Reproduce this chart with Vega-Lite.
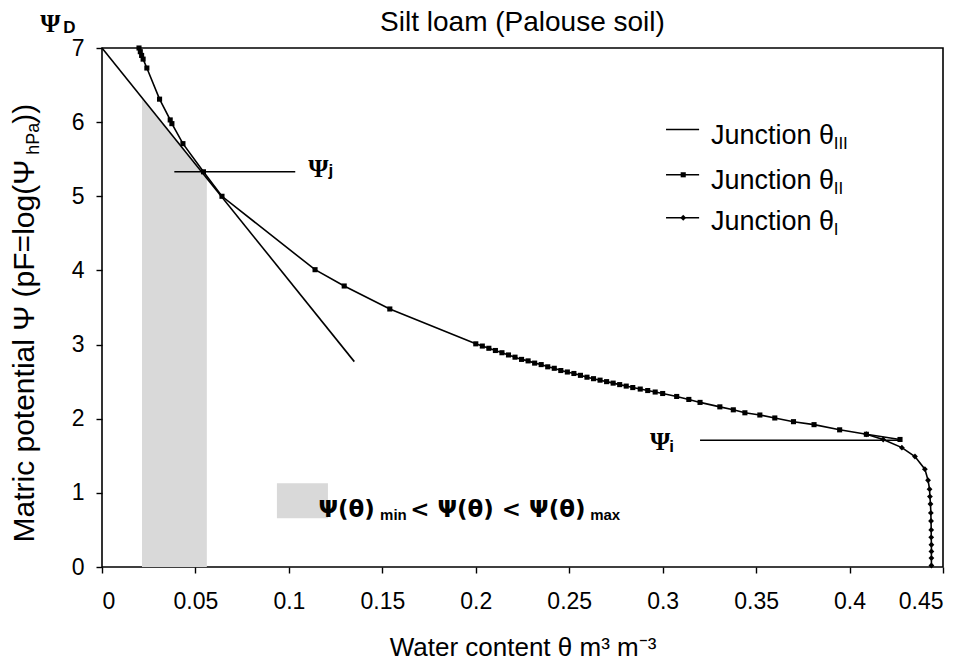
{
  "$schema": "https://vega.github.io/schema/vega-lite/v6.json",
  "autosize": {"type": "none"},
  "width": 841,
  "height": 519,
  "padding": {"left": 102, "top": 48, "right": 36, "bottom": 102},
  "background": "white",
  "config": {
    "view": {"stroke": "black", "strokeWidth": 1.6},
    "axis": {"grid": false, "domain": false, "tickColor": "black", "tickWidth": 1.4, "tickSize": 6, "labelColor": "black", "labelFont": "Liberation Sans", "labelFontSize": 23, "titleFont": "Liberation Sans", "titleFontSize": 26, "titleFontWeight": "normal", "titleColor": "black"}
  },
  "datasets": {
    "shade": [{"x": 0.0214, "y": 6.33}, {"x": 0.0561, "y": 5.24}],
    "box": [{"x": 0.0936, "x2": 0.1209, "y": 0.657, "y2": 1.13}],
    "junction3": [{"x": 0, "y": 7}, {"x": 0.135, "y": 2.77}],
    "refs": [{"x": 0.0387, "x2": 0.1034, "y": 5.33}, {"x": 0.32, "x2": 0.428, "y": 1.71}],
    "junction2": [
      {"x": 0.0198, "y": 7.0}, {"x": 0.0205, "y": 6.95}, {"x": 0.0212, "y": 6.9}, {"x": 0.022, "y": 6.85},
      {"x": 0.024, "y": 6.73}, {"x": 0.0308, "y": 6.31}, {"x": 0.0365, "y": 6.03}, {"x": 0.0374, "y": 5.98},
      {"x": 0.0433, "y": 5.71}, {"x": 0.0543, "y": 5.33}, {"x": 0.0642, "y": 5.0}, {"x": 0.114, "y": 4.01},
      {"x": 0.1296, "y": 3.79}, {"x": 0.154, "y": 3.48}, {"x": 0.2, "y": 3.01}, {"x": 0.2035, "y": 2.98},
      {"x": 0.207, "y": 2.95}, {"x": 0.2105, "y": 2.92}, {"x": 0.214, "y": 2.89}, {"x": 0.2175, "y": 2.86},
      {"x": 0.221, "y": 2.83}, {"x": 0.2245, "y": 2.8}, {"x": 0.228, "y": 2.78}, {"x": 0.2315, "y": 2.75},
      {"x": 0.235, "y": 2.73}, {"x": 0.2385, "y": 2.7}, {"x": 0.242, "y": 2.68}, {"x": 0.2455, "y": 2.65},
      {"x": 0.249, "y": 2.63}, {"x": 0.2525, "y": 2.61}, {"x": 0.256, "y": 2.585}, {"x": 0.2595, "y": 2.56},
      {"x": 0.263, "y": 2.54}, {"x": 0.2665, "y": 2.52}, {"x": 0.27, "y": 2.5}, {"x": 0.2735, "y": 2.48},
      {"x": 0.277, "y": 2.46}, {"x": 0.2805, "y": 2.44}, {"x": 0.284, "y": 2.42}, {"x": 0.288, "y": 2.4},
      {"x": 0.292, "y": 2.38}, {"x": 0.296, "y": 2.36}, {"x": 0.3, "y": 2.34}, {"x": 0.3075, "y": 2.3},
      {"x": 0.314, "y": 2.26}, {"x": 0.32, "y": 2.22}, {"x": 0.3306, "y": 2.16}, {"x": 0.3378, "y": 2.12},
      {"x": 0.344, "y": 2.08}, {"x": 0.352, "y": 2.05}, {"x": 0.36, "y": 2.01}, {"x": 0.37, "y": 1.96},
      {"x": 0.381, "y": 1.92}, {"x": 0.3947, "y": 1.85}, {"x": 0.409, "y": 1.79}, {"x": 0.427, "y": 1.72}
    ],
    "junction1": [
      {"x": 0.409, "y": 1.79}, {"x": 0.418, "y": 1.72}, {"x": 0.428, "y": 1.61}, {"x": 0.435, "y": 1.49},
      {"x": 0.4403, "y": 1.32}, {"x": 0.442, "y": 1.17}, {"x": 0.4428, "y": 1.05}, {"x": 0.443, "y": 0.95},
      {"x": 0.4433, "y": 0.85}, {"x": 0.4435, "y": 0.73}, {"x": 0.4436, "y": 0.62}, {"x": 0.4437, "y": 0.5},
      {"x": 0.4437, "y": 0.4}, {"x": 0.4438, "y": 0.3}, {"x": 0.4438, "y": 0.21}, {"x": 0.4438, "y": 0.12},
      {"x": 0.4438, "y": 0.02}
    ],
    "legendLines": [{"x": 0.3018, "x2": 0.3195, "y": 5.9}, {"x": 0.3018, "x2": 0.3195, "y": 5.29}, {"x": 0.3018, "x2": 0.3195, "y": 4.71}],
    "legendSquare": [{"x": 0.311, "y": 5.29}],
    "legendDiamond": [{"x": 0.311, "y": 4.71}],
    "legendText": [{"x": 0.3258, "y": 5.71, "t": "Junction θ"}, {"x": 0.3258, "y": 5.1, "t": "Junction θ"}, {"x": 0.3258, "y": 4.55, "t": "Junction θ"}],
    "legendSub": [{"x": 0.3915, "y": 5.64, "t": "III"}, {"x": 0.3915, "y": 5.03, "t": "II"}, {"x": 0.3915, "y": 4.48, "t": "I"}],
    "chartTitle": [{"x": 0.225, "y": 7.23, "t": "Silt loam (Palouse soil)"}],
    "psiBig": [{"x": -0.033, "y": 7.22, "t": "Ψ"}, {"x": 0.1103, "y": 5.26, "t": "Ψ"}, {"x": 0.2932, "y": 1.58, "t": "Ψ"}],
    "psiSub": [{"x": -0.0207, "y": 7.2, "t": "D"}, {"x": 0.1212, "y": 5.27, "t": "j"}, {"x": 0.3035, "y": 1.55, "t": "i"}],
    "boxText": [{"x": 0.1158, "y": 0.675, "t": "Ψ(θ)"}, {"x": 0.1649, "y": 0.675, "t": "< Ψ(θ) < Ψ(θ)"}],
    "boxSub": [{"x": 0.1488, "y": 0.634, "t": "min"}, {"x": 0.2612, "y": 0.634, "t": "max"}],
    "yTitle": [{"x": -0.0363, "y": 0.33, "t": "Matric potential Ψ (pF=log(Ψ"}, {"x": -0.0363, "y": 5.98, "t": "))"}],
    "yTitleSub": [{"x": -0.0336, "y": 5.56, "t": "hPa"}]
  },
  "encoding": {
    "x": {"field": "x", "type": "quantitative", "scale": {"domain": [0, 0.45], "nice": false, "zero": false},
          "axis": {"values": [0, 0.05, 0.1, 0.15, 0.2, 0.25, 0.3, 0.35, 0.4, 0.45], "format": "~g", "labelPadding": 17, "titlePadding": 21},
          "title": "Water content θ m³ m⁻³"},
    "y": {"field": "y", "type": "quantitative", "scale": {"domain": [0, 7], "nice": false},
          "axis": {"values": [0, 1, 2, 3, 4, 5, 6, 7], "labelPadding": 12}, "title": null}
  },
  "layer": [
    {
      "data": {"name": "shade"},
      "mark": {"type": "area", "color": "#d9d9d9"}
    },
    {
      "data": {"name": "box"},
      "mark": {"type": "rect", "color": "#d9d9d9"},
      "encoding": {"x2": {"field": "x2"}, "y2": {"field": "y2"}}
    },
    {
      "data": {"name": "junction3"},
      "mark": {"type": "line", "color": "black", "strokeWidth": 1.6}
    },
    {
      "data": {"name": "refs"},
      "mark": {"type": "rule", "color": "black", "strokeWidth": 1.6},
      "encoding": {"x2": {"field": "x2"}}
    },
    {
      "data": {"name": "junction2"},
      "mark": {"type": "line", "color": "black", "strokeWidth": 1.6, "point": {"shape": "square", "size": 26, "filled": true, "color": "black"}},
      "encoding": {"order": {"field": "y", "sort": "descending"}}
    },
    {
      "data": {"name": "junction1"},
      "mark": {"type": "line", "color": "black", "strokeWidth": 1.6, "point": {"shape": "diamond", "size": 34, "filled": true, "color": "black"}},
      "encoding": {"order": {"field": "y", "sort": "descending"}}
    },
    {
      "data": {"name": "legendLines"},
      "mark": {"type": "rule", "color": "black", "strokeWidth": 1.6},
      "encoding": {"x2": {"field": "x2"}}
    },
    {
      "data": {"name": "legendSquare"},
      "mark": {"type": "point", "shape": "square", "size": 26, "filled": true, "color": "black", "opacity": 1}
    },
    {
      "data": {"name": "legendDiamond"},
      "mark": {"type": "point", "shape": "diamond", "size": 34, "filled": true, "color": "black", "opacity": 1}
    },
    {
      "data": {"name": "chartTitle"},
      "mark": {"type": "text", "font": "Liberation Sans", "fontSize": 28, "color": "black", "align": "center", "baseline": "alphabetic"},
      "encoding": {"text": {"field": "t"}}
    },
    {
      "data": {"name": "legendText"},
      "mark": {"type": "text", "font": "Liberation Sans", "fontSize": 27, "color": "black", "align": "left", "baseline": "alphabetic"},
      "encoding": {"text": {"field": "t"}}
    },
    {
      "data": {"name": "legendSub"},
      "mark": {"type": "text", "font": "Liberation Sans", "fontSize": 17, "color": "black", "align": "left", "baseline": "alphabetic"},
      "encoding": {"text": {"field": "t"}}
    },
    {
      "data": {"name": "psiBig"},
      "mark": {"type": "text", "font": "Liberation Serif", "fontSize": 26, "fontWeight": "bold", "color": "black", "align": "left", "baseline": "alphabetic"},
      "encoding": {"text": {"field": "t"}}
    },
    {
      "data": {"name": "psiSub"},
      "mark": {"type": "text", "font": "Liberation Sans", "fontSize": 17, "fontWeight": "bold", "color": "black", "align": "left", "baseline": "alphabetic"},
      "encoding": {"text": {"field": "t"}}
    },
    {
      "data": {"name": "boxText"},
      "mark": {"type": "text", "font": "DejaVu Sans", "fontSize": 23, "fontWeight": "bold", "color": "black", "align": "left", "baseline": "alphabetic"},
      "encoding": {"text": {"field": "t"}}
    },
    {
      "data": {"name": "boxSub"},
      "mark": {"type": "text", "font": "Liberation Sans", "fontSize": 15, "fontWeight": "bold", "color": "black", "align": "left", "baseline": "alphabetic"},
      "encoding": {"text": {"field": "t"}}
    },
    {
      "data": {"name": "yTitle"},
      "mark": {"type": "text", "font": "Liberation Sans", "fontSize": 30, "color": "black", "align": "left", "baseline": "alphabetic", "angle": 270},
      "encoding": {"text": {"field": "t"}}
    },
    {
      "data": {"name": "yTitleSub"},
      "mark": {"type": "text", "font": "Liberation Sans", "fontSize": 18, "color": "black", "align": "left", "baseline": "alphabetic", "angle": 270},
      "encoding": {"text": {"field": "t"}}
    }
  ]
}
